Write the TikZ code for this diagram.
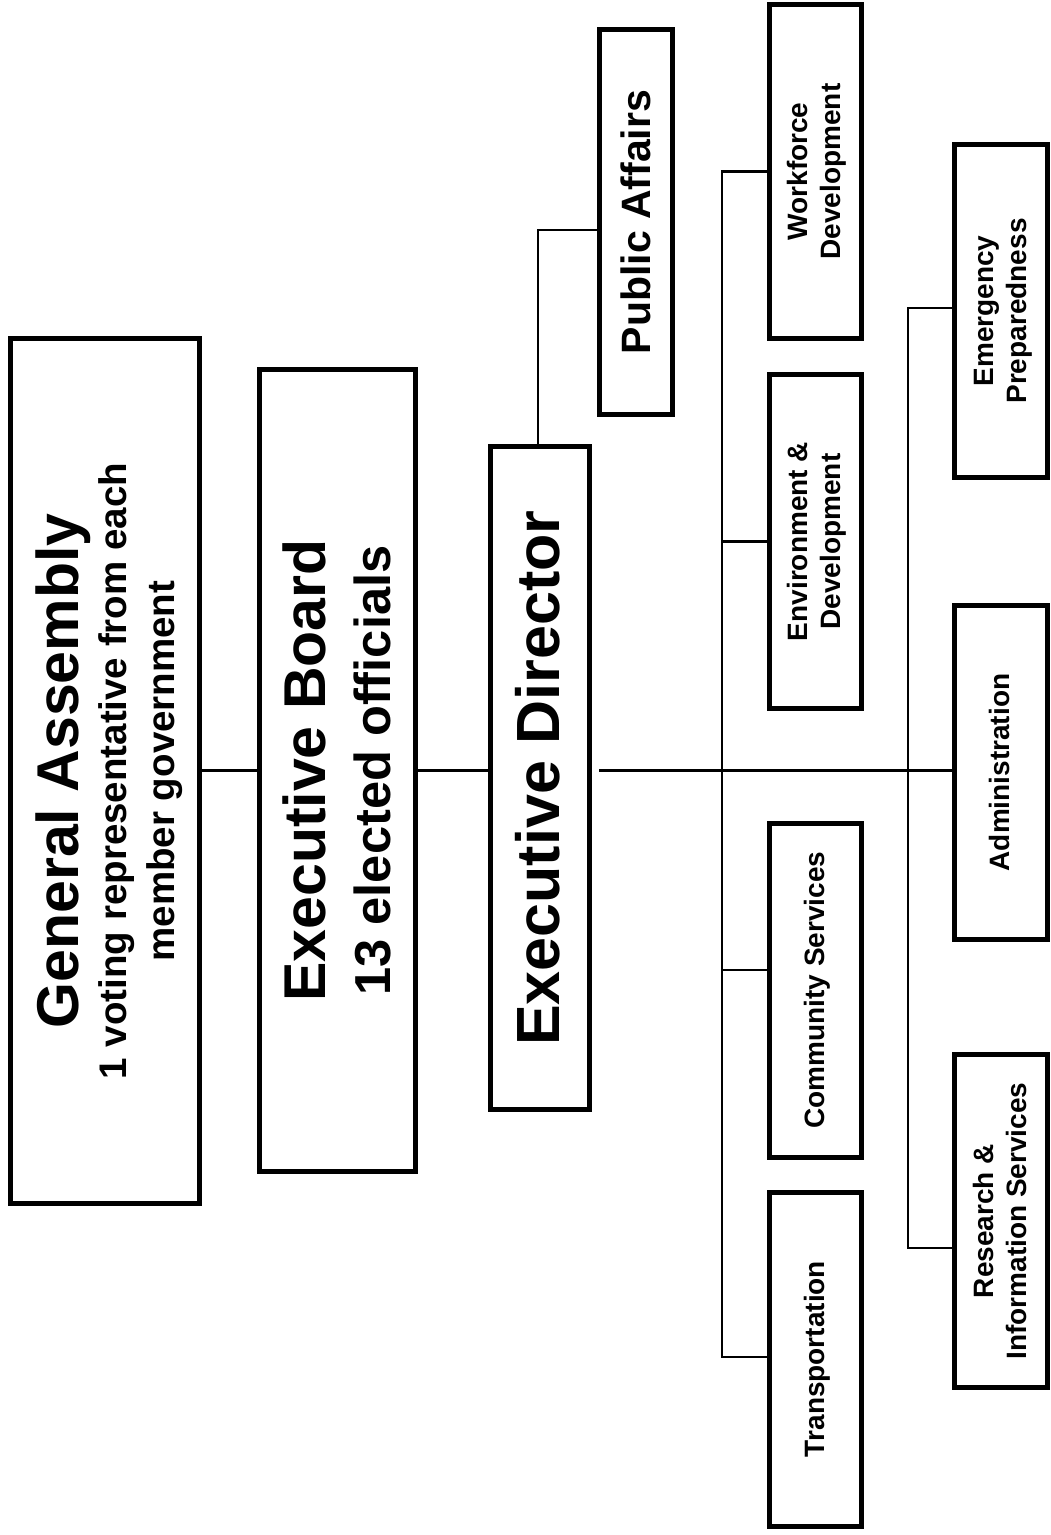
\documentclass[tikz,border=0pt]{standalone}
\usepackage{fontspec}
\setmainfont{Liberation Sans}
\newcommand{\vtext}[2][0pt]{\hspace*{#1}\rotatebox{90}{\begin{tabular}{@{}c@{}}#2\end{tabular}}}
\begin{document}
\begin{tikzpicture}[x=1pt,y=-1pt,
  box/.style={draw, line width=5pt, inner sep=0pt, font=\bfseries},
  small/.style={box, minimum width=92pt, minimum height=334pt},
  conn/.style={line width=2.5pt}]
\useasboundingbox (0,0) rectangle (1051,1535);
% main chain
\node[box, minimum width=189pt, minimum height=865pt] (ga) at (105,771)
  {\fontsize{38.5}{48}\selectfont\vtext[15pt]{{\fontsize{59}{59}\selectfont General Assembly}\\1 voting representative from each\\member government}};
\node[box, minimum width=156pt, minimum height=802pt] (eb) at (337.5,770.5)
  {\fontsize{50.6}{65}\selectfont\vtext[15pt]{{\fontsize{59}{59}\selectfont Executive Board}\\13 elected officials}};
\node[box, minimum width=99pt, minimum height=663pt] (ed) at (540,778)
  {\fontsize{61}{61}\selectfont\vtext[14pt]{Executive Director}};
\node[box, minimum width=73pt, minimum height=385pt] (pa) at (636,222)
  {\fontsize{41}{41}\selectfont\vtext[11pt]{Public Affairs}};
% first column
\node[small] (wf) at (815.5,171.5) {\fontsize{28}{33}\selectfont\vtext[4pt]{Workforce\\Development}};
\node[small] (env) at (815.5,541.5) {\fontsize{28}{33}\selectfont\vtext[4pt]{Environment \&\\Development}};
\node[small] (cs) at (815.5,990) {\fontsize{28}{33}\selectfont\vtext[4pt]{Community Services}};
\node[small] (tr) at (815.5,1359) {\fontsize{28}{33}\selectfont\vtext[4pt]{Transportation}};
% second column
\node[box, minimum width=93pt, minimum height=333pt] (em) at (1001,311) {\fontsize{28}{33}\selectfont\vtext[5pt]{Emergency\\Preparedness}};
\node[box, minimum width=93pt, minimum height=334pt] (adm) at (1001,772.5) {\fontsize{28}{33}\selectfont\vtext[4pt]{Administration}};
\node[box, minimum width=93pt, minimum height=333pt] (rs) at (1001,1221) {\fontsize{28}{33}\selectfont\vtext[5pt]{Research \&\\Information Services}};
% helper coordinates
\coordinate (v1) at (722,770);
\coordinate (v2) at (908,770);
\coordinate (edout) at ([xshift=7pt]ed.east |- eb.east);
\coordinate (csb) at ([yshift=20pt]cs.west);
\coordinate (trb) at ([yshift=2pt]tr.west);
\coordinate (emb) at ([yshift=3pt]em.west);
\coordinate (rsb) at ([yshift=-27pt]rs.west);
\coordinate (pab) at ([yshift=-8pt]pa.west);
% connectors
\draw[conn] (ga.east |- eb.west) -- (eb.west);
\draw[conn] (eb.east) -- (eb.east -| ed.west);
\draw[conn] (edout) -- (edout -| adm.west);
\draw[conn] ([xshift=-2pt]ed.north) |- (pab);
\draw[conn] (wf.west) -- (wf.west -| v1) -- (trb -| v1) -- (trb);
\draw[conn] (env.west -| v1) -- (env.west);
\draw[conn] (csb -| v1) -- (csb);
\draw[conn] (emb) -- (emb -| v2) -- (rsb -| v2) -- (rsb);
\end{tikzpicture}
\end{document}
